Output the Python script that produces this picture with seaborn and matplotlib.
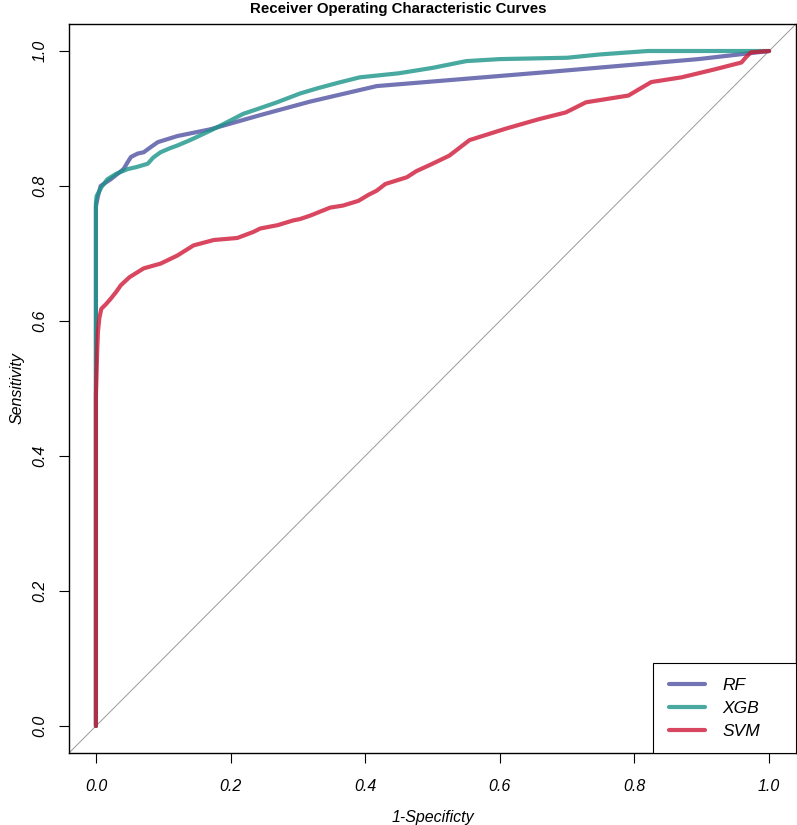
import pandas as pd
import matplotlib
matplotlib.use("Agg")
import matplotlib.pyplot as plt
import matplotlib.patches as mpatches
import seaborn as sns

# ROC egrileri
rf_fpr = [0, 0, 0.003, 0.007, 0.022, 0.041, 0.047, 0.052, 0.062, 0.071, 0.082, 0.092,
          0.121, 0.17, 0.244, 0.318, 0.417, 0.673, 0.895, 1.0]
rf_tpr = [0, 0.77, 0.785, 0.80, 0.81, 0.825, 0.835, 0.843, 0.848, 0.85, 0.858, 0.865,
          0.874, 0.884, 0.905, 0.925, 0.948, 0.969, 0.988, 1.0]

xgb_fpr = [0, 0, 0.001, 0.008, 0.017, 0.03, 0.047, 0.06, 0.077, 0.085, 0.096, 0.11,
           0.121, 0.14, 0.17, 0.19, 0.219, 0.24, 0.269, 0.29, 0.303, 0.33, 0.36, 0.392,
           0.45, 0.5, 0.55, 0.6, 0.7, 0.75, 0.82, 1.0]
xgb_tpr = [0, 0.775, 0.785, 0.798, 0.81, 0.818, 0.825, 0.828, 0.833, 0.842, 0.85, 0.856,
           0.86, 0.868, 0.882, 0.892, 0.907, 0.914, 0.924, 0.932, 0.937, 0.945, 0.953, 0.961,
           0.967, 0.975, 0.985, 0.988, 0.99, 0.995, 1.0, 1.0]

svm_fpr = [0, 0, 0.002, 0.003, 0.005, 0.008, 0.015, 0.022, 0.03, 0.037, 0.05, 0.071,
           0.096, 0.121, 0.145, 0.175, 0.21, 0.234, 0.244, 0.27, 0.293, 0.303, 0.318, 0.348,
           0.367, 0.39, 0.405, 0.417, 0.43, 0.462, 0.476, 0.5, 0.525, 0.555, 0.609, 0.658,
           0.698, 0.728, 0.791, 0.825, 0.87, 0.92, 0.959, 0.965, 0.973, 1.0]
svm_tpr = [0, 0.49, 0.56, 0.584, 0.604, 0.618, 0.625, 0.633, 0.643, 0.653, 0.665, 0.678,
           0.685, 0.697, 0.712, 0.72, 0.723, 0.732, 0.737, 0.742, 0.749, 0.751, 0.756, 0.768,
           0.771, 0.778, 0.787, 0.793, 0.803, 0.813, 0.822, 0.833, 0.845, 0.868, 0.885, 0.899,
           0.909, 0.924, 0.934, 0.954, 0.961, 0.973, 0.983, 0.99, 0.998, 1.0]

models = ["RF", "XGB", "SVM"]
ticks = [0.0, 0.2, 0.4, 0.6, 0.8, 1.0]
tick_labels = ["0.0", "0.2", "0.4", "0.6", "0.8", "1.0"]

curves = {"RF": (rf_fpr, rf_tpr), "XGB": (xgb_fpr, xgb_tpr), "SVM": (svm_fpr, svm_tpr)}
colors = {"RF": "#4f51a1", "XGB": "#1a9488", "SVM": "#cf1937"}

sns.set_style("white")
plt.rcParams['font.family'] = ['Liberation Sans', 'DejaVu Sans']
plt.rcParams['text.color'] = 'black'
plt.rcParams['axes.labelcolor'] = 'black'
plt.rcParams['xtick.color'] = 'black'
plt.rcParams['ytick.color'] = 'black'

W, H = 797, 825
fig = plt.figure(figsize=(W / 100, H / 100), dpi=100)
ax = fig.add_axes([69 / W, 1 - 753 / H, 727 / W, 729 / H])

# Her model icin egri
for m in models:
    df = pd.DataFrame({"fpr": curves[m][0], "tpr": curves[m][1]})
    sns.lineplot(data=df, x="fpr", y="tpr", sort=False, estimator=None, ax=ax,
                 color=colors[m], alpha=0.8, linewidth=3.0, label=m)

# Kosegen
ax.axline((0, 0), slope=1, color="#9a9a9a", linewidth=0.7, zorder=0)

ax.set_xlim(-0.04, 1.04)
ax.set_ylim(-0.04, 1.04)
ax.set_xticks(ticks)
ax.set_xticklabels(tick_labels, fontstyle="italic", fontsize=11.5)
ax.set_yticks(ticks)
ax.set_yticklabels(tick_labels, fontstyle="italic", fontsize=11.5, rotation=90, va="center")
ax.tick_params(axis="both", direction="out", length=7.5, width=0.8, color="black",
               bottom=True, left=True)
ax.tick_params(axis="x", pad=11)
ax.tick_params(axis="y", pad=8)

for s in ax.spines.values():
    s.set_visible(True)
    s.set_color("black")
    s.set_linewidth(1.0)

ax.set_xlabel("1-Specificty", fontstyle="italic", fontsize=11.5, labelpad=12)
ax.set_ylabel("Sensitivity", fontstyle="italic", fontsize=11.5, labelpad=6)
fig.suptitle("Receiver Operating Characteristic Curves", fontweight="bold", fontsize=10.8,
             x=0.5, y=1 - 9 / H, va="center")

# Lejant: R tarzi kutu
leg = ax.legend(loc="upper left", bbox_to_anchor=((669 - 69) / 727, (753 - 678) / 729),
                frameon=False, prop={"style": "italic", "size": 12.5}, handlelength=2.07,
                borderpad=0, labelspacing=0.45, handletextpad=1.0, borderaxespad=0)
frame = mpatches.Rectangle(((653 - 69) / 727, 0), 1 - (653 - 69) / 727, (753 - 663) / 729,
                           transform=ax.transAxes, facecolor="white", edgecolor="black",
                           linewidth=0.8, zorder=4)
ax.add_patch(frame)
leg.set_zorder(5)

plt.savefig("out.png", dpi=100)
